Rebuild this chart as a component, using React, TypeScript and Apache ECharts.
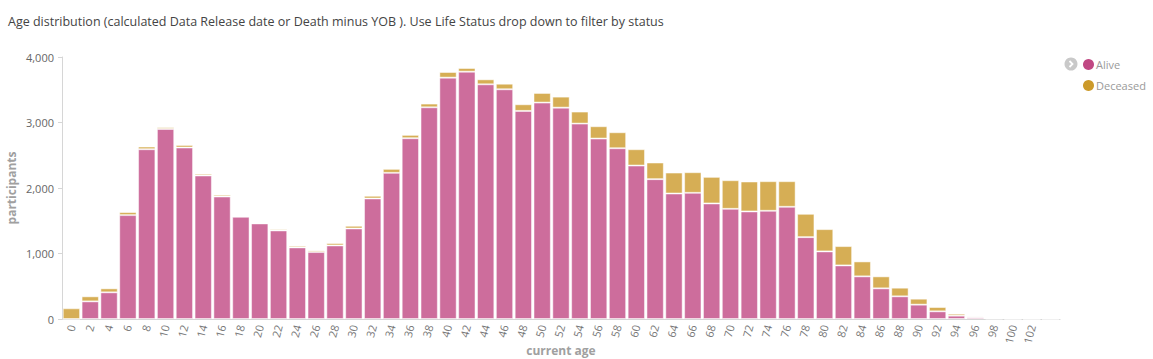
import React, { useEffect, useRef } from "react";
import * as echarts from "echarts";

const ages: string[] = [
  "0", "2", "4", "6", "8", "10", "12", "14", "16", "18", "20", "22", "24", "26", "28", "30", "32", "34",
  "36", "38", "40", "42", "44", "46", "48", "50", "52", "54", "56", "58", "60", "62", "64", "66", "68",
  "70", "72", "74", "76", "78", "80", "82", "84", "86", "88", "90", "92", "94", "96", "98", "100", "102", "104",
];

const alive: number[] = [
  0, 269, 407, 1586, 2592, 2902, 2618, 2191, 1870, 1560, 1459, 1352, 1093, 1022, 1123, 1382, 1840, 2231,
  2760, 3232, 3685, 3776, 3583, 3507, 3177, 3304, 3227, 2983, 2755, 2607, 2343, 2135, 1916, 1926, 1764,
  1682, 1642, 1652, 1713, 1250, 1032, 818, 651, 468, 346, 219, 117, 51, 25, 4, 1, 0, 0,
];

const deceased: number[] = [
  163, 77, 61, 46, 41, 26, 40, 25, 26, 16, 15, 20, 25, 25, 36, 41, 41, 61,
  51, 57, 86, 56, 76, 86, 101, 147, 168, 184, 188, 244, 249, 254, 320, 315, 406,
  437, 457, 452, 391, 356, 340, 295, 228, 183, 132, 91, 66, 30, 16, 2, 1, 0, 0,
];

const hiddenLabels: string[] = ["104"];

const title = "Age distribution (calculated Data Release date or Death minus YOB ). Use Life Status drop down to filter by status";

const ALIVE_COLOR = "#C04883";
const DECEASED_COLOR = "#CC9A2A";

export default function App() {
  const ref = useRef<HTMLDivElement>(null);

  useEffect(() => {
    if (!ref.current) return;
    const chart = echarts.init(ref.current, undefined, { renderer: "svg" });
    const showIdx = (index: number, value: string) => hiddenLabels.indexOf(String(value)) < 0 && hiddenLabels.indexOf(ages[index]) < 0;
    chart.setOption({
      animation: false,
      textStyle: { fontFamily: "Open Sans" },
      title: {
        text: title,
        left: 3,
        top: 10,
        textStyle: { fontFamily: "Open Sans", fontSize: 12.5, fontWeight: "normal", color: "#444" },
      },
      legend: {
        orient: "vertical",
        left: 1083,
        top: 59,
        padding: 0,
        itemGap: 10,
        itemWidth: 11,
        itemHeight: 11,
        icon: "circle",
        textStyle: { fontFamily: "Open Sans", fontSize: 11, color: "#9a9a9a", padding: [0, 0, 0, -3] },
        data: [
          { name: "Alive", itemStyle: { color: ALIVE_COLOR, opacity: 1, borderWidth: 0 } },
          { name: "Deceased", itemStyle: { color: DECEASED_COLOR, opacity: 1, borderWidth: 0 } },
        ],
      },
      graphic: [
        { type: "circle", shape: { cx: 1071, cy: 64, r: 6.5 }, style: { fill: "#c9c9c9" } },
        {
          type: "polyline",
          shape: { points: [[1069.5, 61], [1072.5, 64], [1069.5, 67]] },
          style: { stroke: "#fff", lineWidth: 1.8, fill: "none" },
        },
      ],
      grid: { left: 62, right: 93, top: 57, bottom: 40, containLabel: false, outerBoundsMode: "none" },
      xAxis: {
        type: "category",
        data: ages,
        name: "current age",
        nameLocation: "middle",
        nameGap: 25,
        nameMoveOverlap: false,
        nameTextStyle: { fontFamily: "Open Sans", fontSize: 12, fontWeight: "bold", color: "#a0a0a0" },
        axisLine: { lineStyle: { color: "#d6d6d6" } },
        axisTick: { alignWithLabel: true, length: 5, lineStyle: { color: "#d6d6d6" }, interval: (i: number, v: string) => showIdx(i, v) },
        axisLabel: {
          rotate: 75,
          margin: 6,
          fontSize: 11,
          color: "#777",
          interval: (i: number, v: string) => showIdx(i, v),
        },
      },
      yAxis: {
        type: "value",
        min: 0,
        max: 4000,
        interval: 1000,
        name: "participants",
        nameLocation: "middle",
        nameGap: 45,
        nameMoveOverlap: false,
        nameTextStyle: { fontFamily: "Open Sans", fontSize: 12, fontWeight: "bold", color: "#a0a0a0" },
        axisLine: { show: true, lineStyle: { color: "#d6d6d6" } },
        axisTick: { show: true, length: 4, lineStyle: { color: "#d6d6d6" } },
        splitLine: { show: false },
        axisLabel: {
          fontSize: 11,
          color: "#666",
          margin: 8,
          formatter: (v: number) => v.toLocaleString("en-US"),
        },
      },
      series: [
        {
          name: "Alive",
          type: "bar",
          stack: "total",
          data: alive,
          barCategoryGap: "8%",
          itemStyle: { color: ALIVE_COLOR, opacity: 0.8, borderColor: "rgba(255,255,255,0.6)", borderWidth: 1 },
        },
        {
          name: "Deceased",
          type: "bar",
          stack: "total",
          data: deceased,
          barCategoryGap: "8%",
          itemStyle: { color: DECEASED_COLOR, opacity: 0.8, borderColor: "rgba(255,255,255,0.6)", borderWidth: 1 },
        },
      ],
    });
    return () => chart.dispose();
  }, []);

  return (
    <div
      ref={ref}
      style={{ position: "absolute", left: 0, top: 0, width: 1153, height: 359 }}
    />
  );
}
